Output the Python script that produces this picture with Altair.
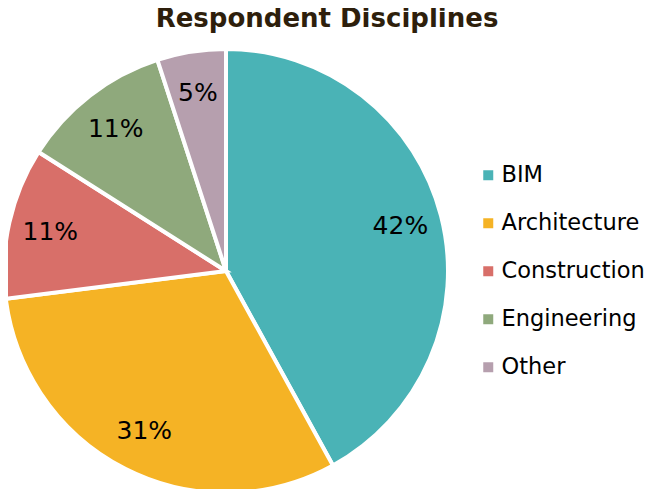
import altair as alt
import pandas as pd

categories = ["BIM", "Architecture", "Construction", "Engineering", "Other"]
values = [42, 31, 11, 11, 5]
labels = ["42%", "31%", "11%", "11%", "5%"]
colors = ["#4ab3b6", "#f5b325", "#d86f69", "#8fa97c", "#b69fae"]

df = pd.DataFrame({
    "category": categories,
    "value": values,
    "label": labels,
    "idx": list(range(len(categories))),
})

base = alt.Chart(df).encode(
    theta=alt.Theta("value:Q", stack=True),
    order=alt.Order("idx:Q", sort="ascending"),
)

arcs = base.mark_arc(stroke="white", strokeWidth=4, radius=222).encode(
    color=alt.Color(
        "category:N",
        scale=alt.Scale(domain=categories, range=colors),
        sort=categories,
        legend=alt.Legend(
            title=None,
            orient="none",
            legendX=469,
            legendY=113,
            symbolType="square",
            symbolSize=100,
            symbolStrokeWidth=0,
            labelFont="DejaVu Sans",
            labelFontSize=22.5,
            labelColor="#000000",
            labelOffset=2,
            labelLimit=300,
            rowPadding=25,
        ),
    )
)

text = base.mark_text(radius=180, font="DejaVu Sans", fontSize=25, color="#000000").encode(
    text="label:N"
)

chart = (
    alt.layer(arcs, text)
    .properties(
        width=436,
        height=440,
        title=alt.TitleParams(
            "Respondent Disciplines",
            font="DejaVu Sans",
            fontSize=26,
            fontWeight="bold",
            color="#2e1f0c",
            anchor="middle",
            frame="group",
            dx=101,
            offset=9,
        ),
        autosize=alt.AutoSizeParams(type="none"),
        padding={"left": 0, "top": 43, "right": 202, "bottom": 0},
    )
    .configure_view(stroke=None)
)

chart.save("out.html", embed_options={"renderer": "svg", "actions": False})
